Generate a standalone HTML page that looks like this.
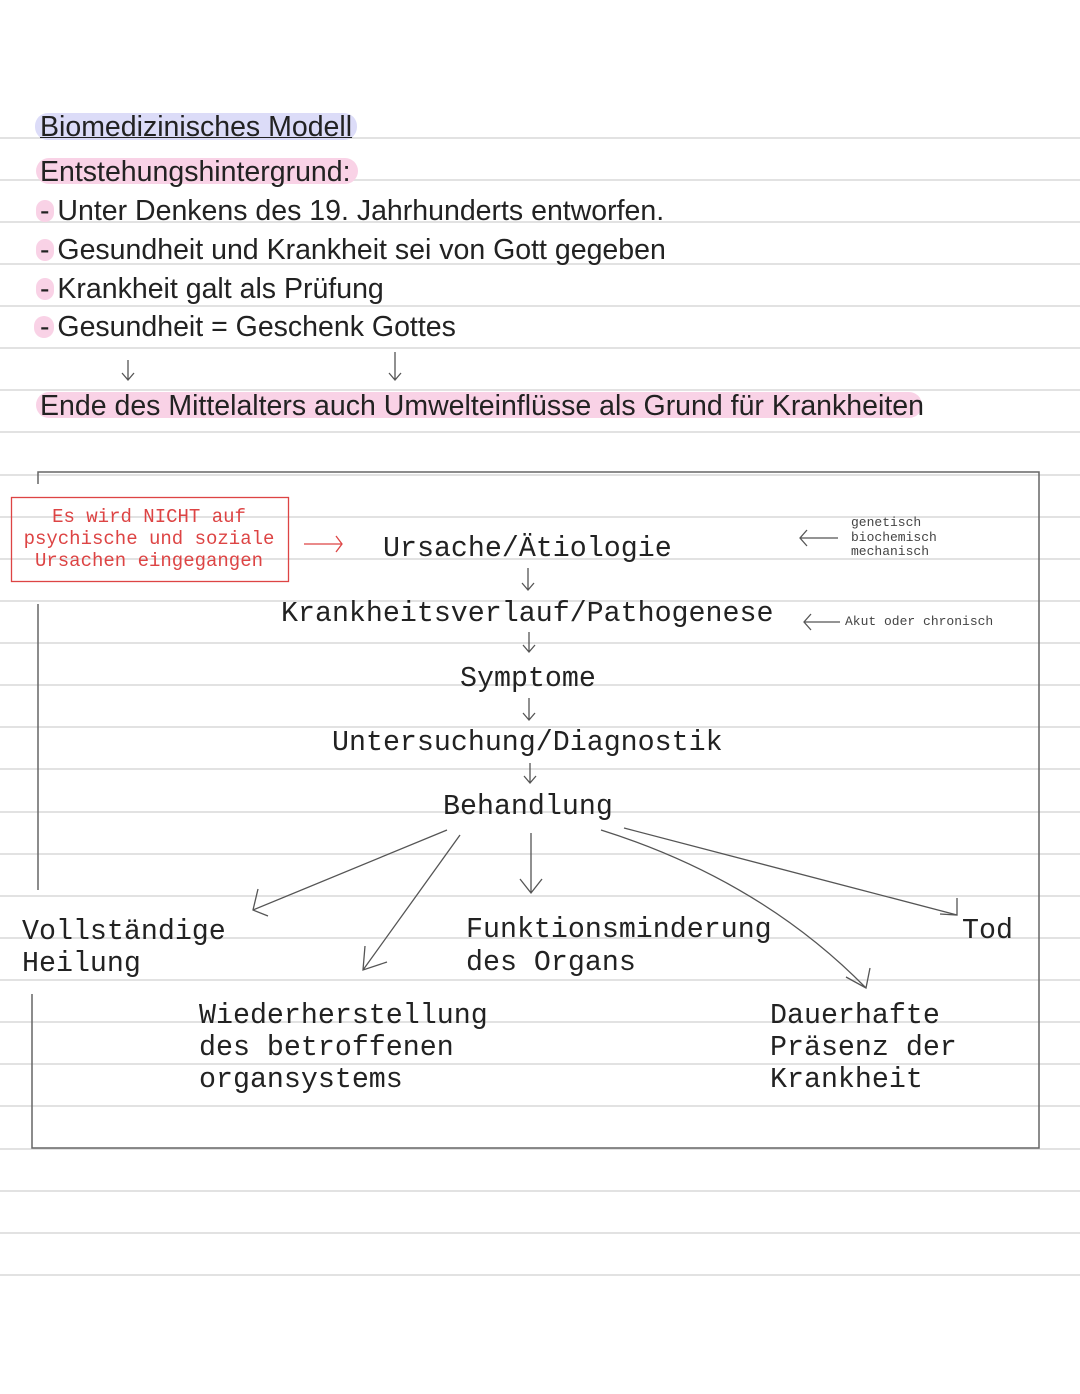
<!DOCTYPE html>
<html><head><meta charset="utf-8"><style>
body{margin:0;background:#fff;}
#p{position:relative;width:1080px;height:1394px;overflow:hidden;background:#fff;}
.l{position:absolute;left:0;width:1080px;height:2px;background:#e2e2e2;}
.t{position:absolute;font-family:"Liberation Sans",sans-serif;font-size:28.5px;color:#222;white-space:nowrap;line-height:1;}
.hl{position:absolute;border-radius:13px;}
.m{position:absolute;font-family:"Liberation Mono",monospace;font-size:28.3px;color:#222;white-space:nowrap;line-height:1;}
svg{position:absolute;left:0;top:0;}
</style></head><body><div id="p">
<div class="l" style="top:137px"></div><div class="l" style="top:179px"></div><div class="l" style="top:221px"></div><div class="l" style="top:263px"></div><div class="l" style="top:305px"></div><div class="l" style="top:347px"></div><div class="l" style="top:389px"></div><div class="l" style="top:431px"></div><div class="l" style="top:474px"></div><div class="l" style="top:516px"></div><div class="l" style="top:558px"></div><div class="l" style="top:600px"></div><div class="l" style="top:642px"></div><div class="l" style="top:684px"></div><div class="l" style="top:726px"></div><div class="l" style="top:768px"></div><div class="l" style="top:811px"></div><div class="l" style="top:853px"></div><div class="l" style="top:895px"></div><div class="l" style="top:937px"></div><div class="l" style="top:979px"></div><div class="l" style="top:1021px"></div><div class="l" style="top:1063px"></div><div class="l" style="top:1105px"></div><div class="l" style="top:1148px"></div><div class="l" style="top:1190px"></div><div class="l" style="top:1232px"></div><div class="l" style="top:1274px"></div>

<div class="hl" style="left:35px;top:113px;width:322px;height:27px;background:#dcdcf8"></div>
<div class="hl" style="left:36px;top:158px;width:322px;height:26px;background:#f9d2e6"></div>
<div class="hl" style="left:36px;top:200px;width:18px;height:22px;background:#f9d2e6"></div>
<div class="hl" style="left:36px;top:239px;width:18px;height:22px;background:#f9d2e6"></div>
<div class="hl" style="left:36px;top:278px;width:18px;height:22px;background:#f9d2e6"></div>
<div class="hl" style="left:34px;top:316px;width:20px;height:22px;background:#f9d2e6"></div>
<div class="hl" style="left:36px;top:392px;width:886px;height:26px;background:#f9d2e6"></div>

<div class="t" style="left:40px;top:113px;text-decoration:underline;text-decoration-thickness:1px">Biomedizinisches Modell</div>
<div class="t" style="left:40px;top:158px">Entstehungshintergrund:</div>
<div class="t" style="left:40px;top:197px">- Unter Denkens des 19. Jahrhunderts entworfen.</div>
<div class="t" style="left:40px;top:236px">- Gesundheit und Krankheit sei von Gott gegeben</div>
<div class="t" style="left:40px;top:275px">- Krankheit galt als Prüfung</div>
<div class="t" style="left:40px;top:313px">- Gesundheit = Geschenk Gottes</div>
<div class="t" style="left:40px;top:392px">Ende des Mittelalters auch Umwelteinflüsse als Grund für Krankheiten</div>

<svg width="1080" height="1394" fill="none" stroke="#555" stroke-width="1.3">
<path d="M128 360V380M122 373L128 380L134 373M395 352V380M389 373L395 380L401 373"/>
<path d="M38 484V472H1039V1148H32V994M38 604V890" stroke="#666" stroke-width="1.5"/>
<rect x="11.5" y="497.5" width="277" height="84" stroke="#d44" stroke-width="1.3"/>
<path d="M304 544H342M336 536L342 544L336 552" stroke="#d44"/>
<path d="M800 538H838M807 530L800 538L807 546M804 622H840M811 614L804 622L811 630"/>
<path d="M528 568V590M522 583L528 590L534 583M529 632V652M523 645L529 652L535 645M529 698V720M523 713L529 720L535 713M530 763V783M524 776L530 783L536 776"/>
<path d="M447 830L253 910M258 889L253 910L268 916"/>
<path d="M460 835L363 970M365 946L363 970L387 962"/>
<path d="M531 833V893M520 879L531 893L542 879"/>
<path d="M601 830Q760 880 866 988M846 977L866 988L870 968"/>
<path d="M624 828L957 915M957 898L957 915L940 914"/>
</svg>

<div class="m" style="left:6px;top:506px;width:286px;text-align:center;font-size:19px;color:#d44;line-height:22px">Es wird NICHT auf<br>psychische und soziale<br>Ursachen eingegangen</div>
<div class="m" style="left:851px;top:516px;font-size:13px;color:#444;line-height:14.5px">genetisch<br>biochemisch<br>mechanisch</div>
<div class="m" style="left:845px;top:615px;font-size:13px;color:#444">Akut oder chronisch</div>

<div class="m" style="left:383px;top:535px">Ursache/Ätiologie</div>
<div class="m" style="left:281px;top:600px">Krankheitsverlauf/Pathogenese</div>
<div class="m" style="left:460px;top:665px">Symptome</div>
<div class="m" style="left:332px;top:729px">Untersuchung/Diagnostik</div>
<div class="m" style="left:443px;top:793px">Behandlung</div>
<div class="m" style="left:22px;top:916px;line-height:32px">Vollständige<br>Heilung</div>
<div class="m" style="left:466px;top:914px;line-height:33px">Funktionsminderung<br>des Organs</div>
<div class="m" style="left:962px;top:917px">Tod</div>
<div class="m" style="left:199px;top:1000px;line-height:32px">Wiederherstellung<br>des betroffenen<br>organsystems</div>
<div class="m" style="left:770px;top:1000px;line-height:32px">Dauerhafte<br>Präsenz der<br>Krankheit</div>
</div></body></html>
